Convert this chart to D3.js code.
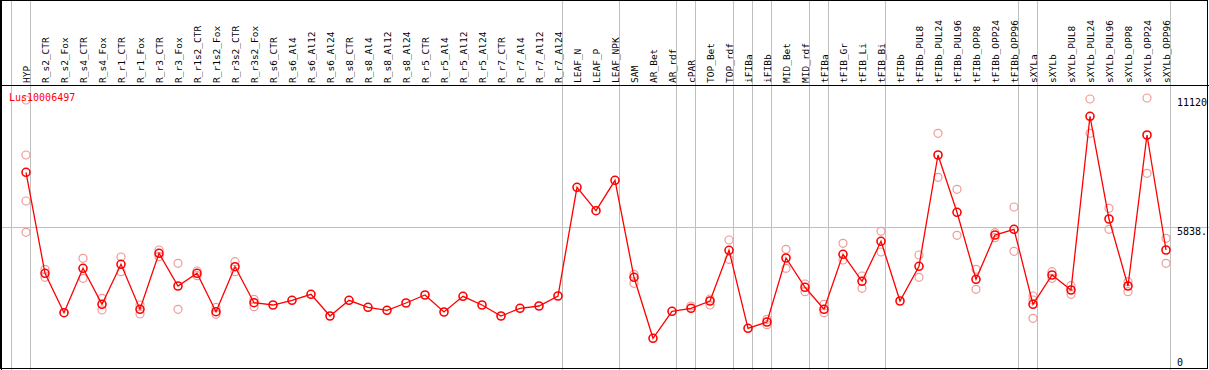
<!DOCTYPE html>
<html>
<head>
<meta charset="utf-8">
<script src="https://cdn.jsdelivr.net/npm/d3@7"></script>
<style>
  body { margin: 0; background: #fff; }
  svg { display: block; }
  text { font-family: "DejaVu Sans Mono", monospace; }
</style>
</head>
<body>
<svg id="chart" width="1209" height="370"></svg>
<script>
// Sample names, one column each.
const categories = [
    "HYP",
    "R_s2_CTR", "R_s2_Fox", "R_s4_CTR", "R_s4_Fox", "R_r1_CTR", "R_r1_Fox", "R_r3_CTR", "R_r3_Fox",
    "R_r1s2_CTR", "R_r1s2_Fox", "R_r3s2_CTR", "R_r3s2_Fox",
    "R_s6_CTR", "R_s6_Al4", "R_s6_Al12", "R_s6_Al24", "R_s8_CTR", "R_s8_Al4", "R_s8_Al12", "R_s8_Al24",
    "R_r5_CTR", "R_r5_Al4", "R_r5_Al12", "R_r5_Al24", "R_r7_CTR", "R_r7_Al4", "R_r7_Al12", "R_r7_Al24",
    "LEAF_N", "LEAF_P", "LEAF_NPK",
    "SAM", "AR_Bet", "AR_rdf", "cPAR", "TOP_Bet", "TOP_rdf", "iFIBa", "iFIBb", "MID_Bet", "MID_rdf",
    "tFIBa", "tFIB_Gr", "tFIB_Li", "tFIB_Bi",
    "tFIBb", "tFIBb_PUL8", "tFIBb_PUL24", "tFIBb_PUL96", "tFIBb_OPP8", "tFIBb_OPP24", "tFIBb_OPP96",
    "sXYLa", "sXYLb", "sXYLb_PUL8", "sXYLb_PUL24", "sXYLb_PUL96", "sXYLb_OPP8", "sXYLb_OPP24", "sXYLb_OPP96"
];

// Last column of each tissue group (a gray separator follows it).
const groupEnds = ["HYP", "R_r7_Al24", "LEAF_NPK", "AR_rdf", "cPAR", "TOP_rdf", "iFIBa", "iFIBb",
    "MID_rdf", "tFIBa", "tFIB_Bi", "tFIBb_OPP96", "sXYLa", "sXYLb_OPP96"];

// Mean expression per sample.
const means = [
    8082,
    3953, 2343, 4158, 2686, 4321, 2482, 4771, 3434,
    3953, 2383, 4223, 2751,
    2657, 2849, 3095, 2208, 2849, 2563, 2441, 2739,
    3066, 2371, 3013, 2657, 2208, 2522, 2616, 3025,
    7469, 6513, 7755,
    3790, 1296, 2400, 2522, 2821, 4894, 1705, 1962, 4579, 3381,
    2482, 4730, 3626, 5262,
    2821, 4239, 8790, 6447, 3708, 5519, 5752,
    2686, 3884, 3271, 10372, 6173, 3434, 9607, 4906
];

// Individual replicates (where they show apart from the mean).
const replicates = [
    [11038, 8790, 6909, 5629],
    [4117, 3790], [], [4567, 3749], [2931, 2453], [4620, 4019], [2657, 2289], [4906, 4632], [4362, 2482],
    [4047, 3855], [2563, 2277], [4428, 4019], [2890, 2588],
    [], [], [], [], [], [], [], [],
    [], [], [], [], [], [], [], [],
    [], [], [],
    [3912, 3544], [], [], [2616], [2657, 2903], [5315, 4526], [], [2073, 1852], [4934, 4158], [3516, 3201],
    [2686, 2343], [5180, 4497], [3843, 3340], [5670, 4824],
    [], [4701, 3790], [9677, 7878], [7387, 5507], [4117, 3299], [5613, 5409], [6664, 4853],
    [3025, 2862, 2114], [4019, 3749], [3446, 3095], [11079, 9677], [6611, 5752], [3610, 3201], [11120, 8041], [5384, 4362]
];

// Right-hand axis labels (as printed, the middle one is cut by the frame).
const yTicks = [
    { value: 11120, label: "11120" },
    { value: 5838.5, label: "5838." },
    { value: 0, label: "0" }
];

const geneName = "Lus10006497";

const width = 1209, height = 370;
const headerY = 85;
const svg = d3.select("#chart");

const x = d3.scalePoint()
    .domain(categories)
    .range([26, 1166]);
const step = x.step();

const y = d3.scaleLinear()
    .domain([0, 11120])
    .range([370, 98]);

const crisp = v => Math.round(v) + 0.5;

// Middle horizontal gray line.
svg.append("line")
    .attr("x1", 0).attr("x2", width)
    .attr("y1", crisp(y(yTicks[1].value) - 0.5)).attr("y2", crisp(y(yTicks[1].value) - 0.5))
    .attr("stroke", "#c0c0c0")
    .attr("stroke-width", 1);

// Vertical gray separators between groups.
const sepX = [x(categories[0]) - step + 4.5].concat(groupEnds.map(c => x(c) + 4.5));
svg.selectAll("line.sep")
    .data(sepX)
    .join("line")
    .attr("class", "sep")
    .attr("x1", d => crisp(d - 0.5)).attr("x2", d => crisp(d - 0.5))
    .attr("y1", 0).attr("y2", height)
    .attr("stroke", "#c0c0c0")
    .attr("stroke-width", 1);

// Column labels, rotated.
svg.selectAll("text.col")
    .data(categories)
    .join("text")
    .attr("class", "col")
    .attr("transform", d => `translate(${x(d) + 4},${headerY - 2}) rotate(-90)`)
    .attr("font-size", "9.5px")
    .attr("fill", "#000")
    .text(d => d);

// Header divider line.
svg.append("line")
    .attr("x1", 0).attr("x2", width)
    .attr("y1", headerY + 0.5).attr("y2", headerY + 0.5)
    .attr("stroke", "#000");

// Replicate circles.
const repData = [];
replicates.forEach((reps, i) => {
    reps.forEach(v => repData.push({ cat: categories[i], value: v }));
});
svg.selectAll("circle.rep")
    .data(repData)
    .join("circle")
    .attr("class", "rep")
    .attr("cx", d => x(d.cat))
    .attr("cy", d => y(d.value))
    .attr("r", 4)
    .attr("fill", "none")
    .attr("stroke", "#ef9a9a")
    .attr("stroke-width", 1.2);

// Mean line with circles.
const meanData = categories.map((c, i) => ({ cat: c, value: means[i] }));
svg.append("path")
    .datum(meanData)
    .attr("fill", "none")
    .attr("stroke", "#ff0000")
    .attr("stroke-width", 1.3)
    .attr("d", d3.line().x(d => x(d.cat)).y(d => y(d.value)));

svg.selectAll("circle.mean")
    .data(meanData)
    .join("circle")
    .attr("class", "mean")
    .attr("cx", d => x(d.cat))
    .attr("cy", d => y(d.value))
    .attr("r", 4)
    .attr("fill", "none")
    .attr("stroke", "#ff0000")
    .attr("stroke-width", 1.6);

// Gene name.
svg.append("text")
    .attr("x", 9)
    .attr("y", 101)
    .attr("font-size", "10px")
    .attr("fill", "#ff0000")
    .text(geneName);

// Right axis labels.
svg.selectAll("text.ytick")
    .data(yTicks)
    .join("text")
    .attr("class", "ytick")
    .attr("x", 1177)
    .attr("y", (d, i) => i === 2 ? y(d.value) - 4 : y(d.value) + 8)
    .attr("font-size", "10px")
    .attr("fill", "#000")
    .text(d => d.label);

// Outer frame, left edge a bit heavier.
svg.append("rect")
    .attr("x", 0.5).attr("y", 0.5)
    .attr("width", width - 2).attr("height", height - 2)
    .attr("fill", "none")
    .attr("stroke", "#000")
    .attr("stroke-width", 1);
svg.append("line")
    .attr("x1", 1.5).attr("x2", 1.5)
    .attr("y1", 0).attr("y2", height)
    .attr("stroke", "#000");
</script>
</body>
</html>
